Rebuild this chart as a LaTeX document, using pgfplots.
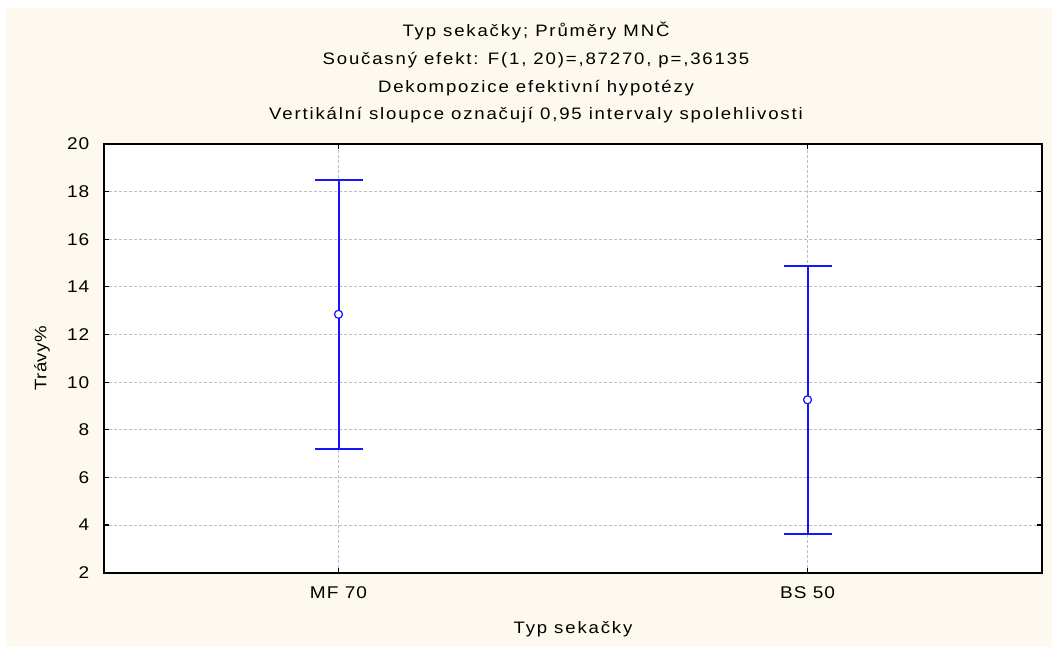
\documentclass[border=0pt]{standalone}
\usepackage{pgfplots}
\pgfplotsset{compat=1.18}
\usepackage{fontspec}
\setmainfont{Liberation Sans}
\newfontfamily\titlefont[FakeStretch=1.12, LetterSpace=11]{Liberation Sans}
\newfontfamily\tickfont[FakeStretch=1.12, LetterSpace=6]{Liberation Sans}
\newfontfamily\ylabfont[FakeStretch=1.12, LetterSpace=3]{Liberation Sans}
\definecolor{cream}{RGB}{254,249,238}
\definecolor{barblue}{RGB}{20,20,255}
\definecolor{gridgray}{RGB}{190,190,190}
\begin{document}
\begin{tikzpicture}
\path[use as bounding box, fill=white] (0,0) rectangle (526.5pt,323.5pt);
\fill[cream] (3pt,0pt) rectangle (526pt,319.5pt);
\begin{axis}[
  at={(52pt,37.15pt)}, anchor=south west,
  scale only axis, width=469pt, height=214.35pt,
  xmin=-0.5, xmax=1.5, ymin=2, ymax=20,
  xtick={0,1}, xticklabels={MF 70, BS 50},
  ytick={2,4,...,20},
  axis background/.style={fill=white},
  axis line style={line width=1pt, black},
  tick style={black, line width=0.6pt},
  major tick length=2.5pt,
  tick pos=both, tick align=inside,
  grid=major,
  major grid style={gridgray, dash pattern=on 1.5pt off 1pt, line width=0.4pt},
  ticklabel style={font=\tickfont\fontsize{8.5}{10}\selectfont},
  /pgf/number format/assume math mode=true,
  yticklabel style={xshift=-3.8pt},
  xticklabel style={yshift=-3.5pt},
  xlabel={Typ sekačky},
  ylabel={Trávy\%},
  xlabel style={font=\titlefont\fontsize{8.3}{10}\selectfont, at={(axis description cs:0.5,-0.131)}, anchor=center},
  ylabel style={font=\ylabfont\fontsize{8.3}{10}\selectfont, at={(axis description cs:-0.0661,0.5)}, anchor=center},
  clip=false,
]
\addplot[barblue, line width=1pt, mark=*, mark size=2pt,
  mark options={fill=white, draw=barblue, line width=0.6pt},
  only marks,
  error bars/.cd, y dir=both, y explicit,
  error bar style={line width=1pt, barblue},
  error mark=-,
  error mark options={line width=1pt, barblue, mark size=12pt, rotate=90},
] table[x=x, y=y, y error=e] {
x y e
0 12.85 5.65
1 9.26 5.63
};
\end{axis}
\begin{scope}[font=\titlefont\fontsize{8.3}{10}\selectfont]
\node[anchor=base] at (268pt,305pt) {Typ sekačky; Průměry MNČ};
\node[anchor=base] at (268pt,291pt) {Současný efekt: F(1, 20)=,87270, p=,36135};
\node[anchor=base] at (268pt,277pt) {Dekompozice efektivní hypotézy};
\node[anchor=base] at (268pt,263.5pt) {Vertikální sloupce označují 0,95 intervaly spolehlivosti};
\end{scope}
\end{tikzpicture}
\end{document}
